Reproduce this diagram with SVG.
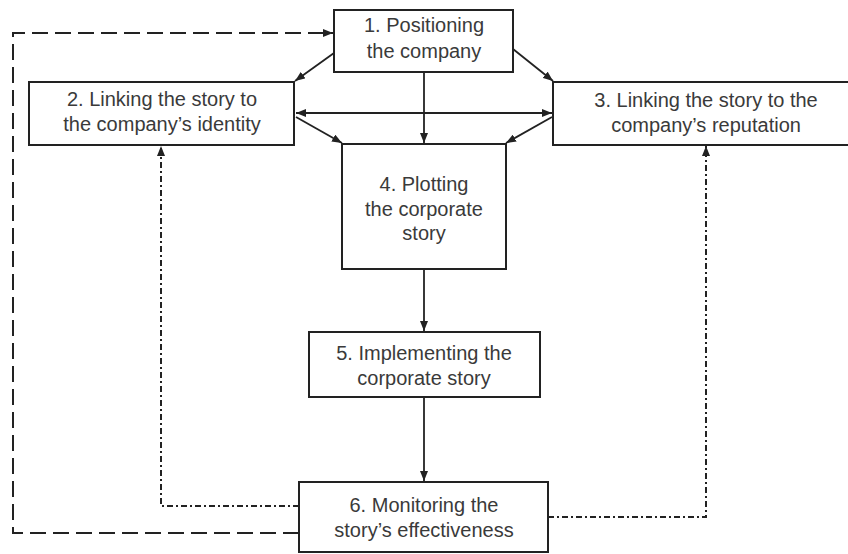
<svg xmlns="http://www.w3.org/2000/svg" width="848" height="554" viewBox="0 0 848 554">
<defs>
<marker id="ah" viewBox="0 0 10 8" markerWidth="10" markerHeight="8" refX="10" refY="4" orient="auto-start-reverse" markerUnits="userSpaceOnUse">
<path d="M0,0 L10,4 L0,8 z" fill="#222"/>
</marker>
<style>
.box{fill:#fff;stroke:#222;stroke-width:2}
.t{font-family:"Liberation Sans",Arial,sans-serif;font-size:20px;fill:#3a3a3a;text-anchor:middle}
.c{fill:none;stroke:#222;stroke-width:1.8}
.dash{fill:none;stroke:#222;stroke-width:2;stroke-dasharray:16 7}
.dd{fill:none;stroke:#222;stroke-width:2;stroke-dasharray:6 3 2 3}
</style>
</defs>
<rect width="848" height="554" fill="#fff"/>
<g id="connectors">
<line class="c" x1="334" y1="53" x2="295" y2="81" marker-end="url(#ah)"/>
<line class="c" x1="513" y1="49" x2="553" y2="81" marker-end="url(#ah)"/>
<line class="c" x1="424" y1="72" x2="424" y2="143" marker-end="url(#ah)"/>
<line class="c" x1="296" y1="113" x2="552" y2="113" marker-start="url(#ah)" marker-end="url(#ah)"/>
<line class="c" x1="296" y1="117" x2="342" y2="143" marker-end="url(#ah)"/>
<line class="c" x1="552" y1="117" x2="506" y2="143" marker-end="url(#ah)"/>
<line class="c" x1="424" y1="269" x2="424" y2="331" marker-end="url(#ah)"/>
<line class="c" x1="424" y1="397" x2="424" y2="481" marker-end="url(#ah)"/>
<path class="dash" d="M299,533 H13 V33 H333" marker-end="url(#ah)"/>
<path class="dd" d="M299,506 H161 V146" marker-end="url(#ah)"/>
<path class="dd" d="M548,517 H706 V146" marker-end="url(#ah)"/>
</g>
<g id="n1">
<rect class="box" x="334" y="10" width="179" height="62"/>
<text class="t" x="424" y="32">1. Positioning</text>
<text class="t" x="424" y="58">the company</text>
</g>
<g id="n2">
<rect class="box" x="29" y="82" width="265" height="63"/>
<text class="t" x="162" y="106">2. Linking the story to</text>
<text class="t" x="162" y="131">the company’s identity</text>
</g>
<g id="n3">
<rect class="box" x="553" y="82" width="300" height="63"/>
<text class="t" x="706" y="107">3. Linking the story to the</text>
<text class="t" x="706" y="132">company’s reputation</text>
</g>
<g id="n4">
<rect class="box" x="342" y="144" width="164" height="125"/>
<text class="t" x="424" y="191">4. Plotting</text>
<text class="t" x="424" y="216">the corporate</text>
<text class="t" x="424" y="240">story</text>
</g>
<g id="n5">
<rect class="box" x="309" y="332" width="231" height="65"/>
<text class="t" x="424" y="360">5. Implementing the</text>
<text class="t" x="424" y="385">corporate story</text>
</g>
<g id="n6">
<rect class="box" x="299" y="482" width="249" height="70"/>
<text class="t" x="424" y="512">6. Monitoring the</text>
<text class="t" x="424" y="537">story’s effectiveness</text>
</g>
</svg>
